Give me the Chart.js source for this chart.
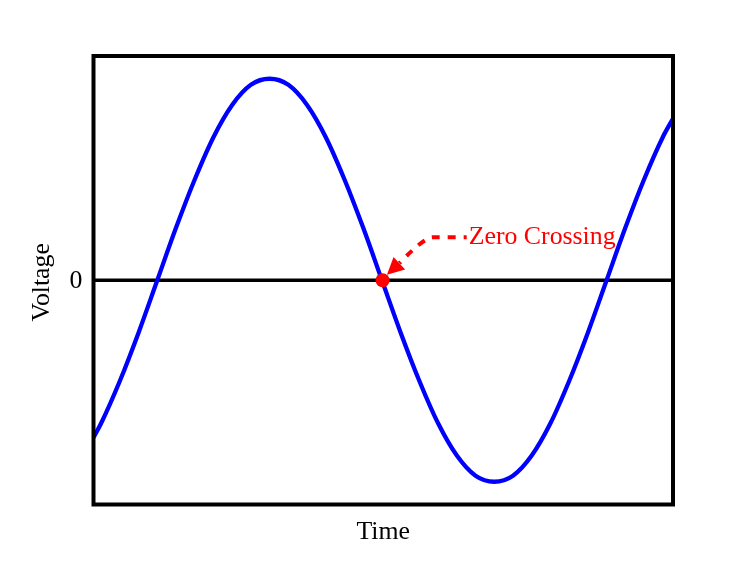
<!DOCTYPE html>
<html>
<head>
<meta charset="utf-8">
<title>Zero Crossing</title>
<script src="https://cdn.jsdelivr.net/npm/chart.js@4/dist/chart.umd.min.js"></script>
<style>
    html, body { margin: 0; padding: 0; background: #fff; }
    #wrap { width: 748px; height: 561px; }
</style>
</head>
<body>
<div id="wrap"><canvas id="waveChart" width="748" height="561"></canvas></div>
<script>
// Time axis (phase in degrees) and voltage
const timeValues = [-51, -45, -30, -15, 0, 15, 30, 45, 60, 75, 90, 105, 120, 135, 150, 165, 180,
    195, 210, 225, 240, 255, 270, 285, 300, 315, 330, 345, 360, 375, 390, 405, 413];
const voltageValues = [-0.78, -0.71, -0.50, -0.26, 0, 0.26, 0.50, 0.71, 0.87, 0.97, 1.00, 0.97, 0.87, 0.71, 0.50, 0.26, 0,
    -0.26, -0.50, -0.71, -0.87, -0.97, -1.00, -0.97, -0.87, -0.71, -0.50, -0.26, 0, 0.26, 0.50, 0.71, 0.80];

// The marked crossing
const crossingTime = [180.5];
const crossingVoltage = [0];

const yTickValues = [0];
const yTickLabels = ['0'];

const FONT = '25.8px "Liberation Serif", "Times New Roman", serif';

/**
 * Draws the zero line under the curve
 */
const zeroLinePlugin = {
    id: 'zeroLine',
    beforeDatasetsDraw(chart) {
        const {ctx, chartArea, scales} = chart;
        const y0 = scales.y.getPixelForValue(0);
        ctx.save();
        ctx.strokeStyle = '#000';
        ctx.lineWidth = 3.5;
        ctx.beginPath();
        ctx.moveTo(chartArea.left, y0);
        ctx.lineTo(chartArea.right, y0);
        ctx.stroke();
        ctx.restore();
    }
};

/**
 * Frame, labels and the "Zero Crossing" arrow
 */
const decorPlugin = {
    id: 'decor',
    afterDatasetsDraw(chart) {
        const {ctx, chartArea, scales} = chart;
        const xs = scales.x, ys = scales.y;

        ctx.save();
        // frame
        ctx.strokeStyle = '#000';
        ctx.lineWidth = 4;
        ctx.strokeRect(chartArea.left, chartArea.top,
            chartArea.right - chartArea.left, chartArea.bottom - chartArea.top);

        // y tick labels
        ctx.font = FONT;
        ctx.fillStyle = '#000';
        ctx.textAlign = 'right';
        ctx.textBaseline = 'middle';
        yTickValues.forEach((v, i) => {
            ctx.fillText(yTickLabels[i], chartArea.left - 11, ys.getPixelForValue(v) + 1);
        });

        // axis titles
        ctx.textAlign = 'center';
        ctx.textBaseline = 'alphabetic';
        ctx.fillText('Time', (chartArea.left + chartArea.right) / 2, chartArea.bottom + 34);
        ctx.save();
        ctx.translate(chartArea.left - 45, ys.getPixelForValue(0) + 2);
        ctx.rotate(-Math.PI / 2);
        ctx.fillText('Voltage', 0, 0);
        ctx.restore();

        // annotation arrow (positions in data units)
        const labelX = xs.getPixelForValue(249.5);
        const labelY = ys.getPixelForValue(0.213);
        const bendX = xs.getPixelForValue(220.5);
        const ctrlX = xs.getPixelForValue(214);
        const endX = xs.getPixelForValue(194);
        const endY = ys.getPixelForValue(0.085);
        const tipX = xs.getPixelForValue(184);
        const tipY = ys.getPixelForValue(0.027);

        ctx.strokeStyle = '#ff0000';
        ctx.fillStyle = '#ff0000';
        ctx.lineWidth = 4;
        ctx.setLineDash([8, 8]);
        ctx.lineDashOffset = 5;
        ctx.beginPath();
        ctx.moveTo(labelX - 2, labelY);
        ctx.lineTo(bendX, labelY);
        ctx.quadraticCurveTo(ctrlX, labelY, endX, endY);
        ctx.stroke();
        ctx.setLineDash([]);

        // arrow head
        const ang = Math.atan2(tipY - endY, tipX - endX);
        const len = 17, half = 8.5;
        const bx = tipX - len * Math.cos(ang), by = tipY - len * Math.sin(ang);
        ctx.beginPath();
        ctx.moveTo(tipX, tipY);
        ctx.lineTo(bx + half * Math.sin(ang), by - half * Math.cos(ang));
        ctx.lineTo(bx - half * Math.sin(ang), by + half * Math.cos(ang));
        ctx.closePath();
        ctx.fill();

        // label
        ctx.font = FONT;
        ctx.textAlign = 'left';
        ctx.textBaseline = 'middle';
        ctx.fillText('Zero Crossing', labelX, labelY);
        ctx.restore();
    }
};

function renderWaveChart() {
    const canvas = document.getElementById('waveChart');
    const ctx = canvas.getContext('2d');

    const wavePoints = timeValues.map((t, i) => ({x: t, y: voltageValues[i]}));
    const crossingPoints = crossingTime.map((t, i) => ({x: t, y: crossingVoltage[i]}));

    new Chart(ctx, {
        type: 'line',
        data: {
            datasets: [{
                // first dataset is drawn on top
                label: 'Crossing',
                data: crossingPoints,
                showLine: false,
                pointRadius: 7,
                pointBackgroundColor: '#ff0000',
                pointBorderWidth: 0
            }, {
                label: 'Voltage',
                data: wavePoints,
                borderColor: '#0000ff',
                borderWidth: 4.3,
                pointRadius: 0,
                fill: false,
                cubicInterpolationMode: 'monotone'
            }]
        },
        options: {
            responsive: false,
            animation: false,
            layout: {
                padding: {left: 93.5, right: 75, top: 56, bottom: 56.5}
            },
            plugins: {
                legend: {display: false},
                tooltip: {enabled: false}
            },
            scales: {
                x: {type: 'linear', min: -51.1, max: 413.2, display: false},
                y: {min: -1.113, max: 1.113, display: false}
            }
        },
        plugins: [zeroLinePlugin, decorPlugin]
    });
}

renderWaveChart();
</script>
</body>
</html>
